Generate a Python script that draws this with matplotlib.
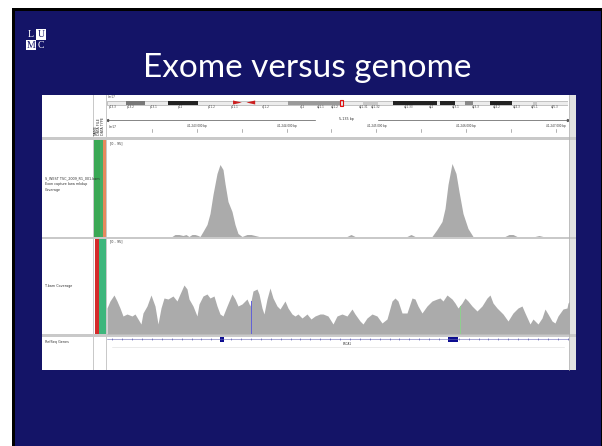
import numpy as np
import matplotlib.pyplot as plt
from matplotlib.patches import Rectangle, Polygon

W, H = 602, 446

# browser locus: chr17 around BRCA1, one screen column per bin
locus_start = 41242000
locus_bp = 5135
n_bins = 462

# exome capture coverage (bin, depth)
exome_bin = [0, 65, 68, 72, 76, 79, 82, 85, 88, 91, 93, 96, 100, 103, 106, 110, 113, 116, 118,
             121, 125, 128, 131, 135, 140, 144, 148, 152, 240, 244, 248, 300, 304, 308, 325,
             330, 335, 338, 341, 345, 349, 352, 356, 361, 366, 370, 398, 402, 406, 410, 428,
             432, 436, 462]
exome_depth = [0, 0, 2, 2, 1, 2, 0, 2, 2, 1, 0, 5, 12, 23, 42, 63, 72, 67, 53,
               35, 25, 12, 3, 0, 2, 2, 1, 0, 0, 2, 0, 0, 2, 0, 0,
               7, 15, 28, 52, 73, 63, 45, 23, 8, 0, 0, 0, 2, 2, 0, 0,
               1, 0, 0]

# whole genome coverage (bin, depth)
genome_bin = [0, 3, 7, 10, 13, 16, 20, 25, 28, 31, 34, 36, 40, 44, 48, 51, 54, 57, 61, 66,
              70, 73, 77, 80, 82, 86, 88, 90, 92, 96, 100, 103, 107, 110, 113, 116, 120, 125, 128, 131,
              135, 140, 143, 146, 150, 152, 155, 157, 160, 163, 166, 170, 173, 178, 181, 185, 188, 191, 195, 200,
              204, 208, 213, 216, 221, 226, 230, 235, 240, 245, 248, 253, 256, 260, 265, 270, 275, 280, 285, 288,
              291, 295, 300, 305, 308, 311, 315, 320, 325, 330, 333, 336, 340, 345, 348, 351, 355, 358, 361, 365,
              370, 375, 380, 383, 386, 390, 393, 396, 401, 406, 411, 415, 418, 423, 426, 431, 435, 438, 441, 445,
              448, 451, 456, 460, 461, 463]
genome_depth = [26, 33, 39, 33, 26, 18, 20, 18, 20, 15, 10, 21, 28, 39, 28, 10, 26, 36, 35, 38,
                33, 40, 49, 45, 35, 28, 23, 18, 30, 38, 40, 36, 38, 28, 20, 18, 28, 40, 35, 28,
                30, 35, 28, 43, 45, 40, 26, 20, 35, 46, 36, 28, 25, 33, 26, 20, 18, 20, 16, 20,
                15, 18, 20, 20, 18, 10, 18, 20, 18, 25, 20, 13, 10, 16, 20, 18, 11, 15, 33, 36,
                33, 21, 21, 36, 35, 28, 21, 28, 33, 35, 36, 33, 39, 35, 31, 26, 31, 36, 33, 28,
                23, 28, 36, 39, 31, 26, 23, 20, 13, 21, 26, 28, 21, 10, 15, 10, 16, 25, 20, 13,
                11, 18, 25, 26, 31, 33]
variant_bin = [144, 353]
variant_color = ['#6060d8', '#8fd08f']

# RefSeq gene
gene_name = 'BRCA1'
exon_start_bin = [113, 341]
exon_end_bin = [117, 351]

# chr17 ideogram (Mb)
chrom_mb = 81.2
band_start = [3.3, 10.7, 31.9, 45.1, 50.4, 58.7, 63.1, 67.5, 75.0]
band_end = [6.7, 16.0, 41.0, 47.7, 58.1, 61.3, 64.5, 71.3, 75.7]
band_color = ['#777777', '#222222', '#9a9a9a', '#c8c8c8', '#222222', '#222222', '#888888', '#222222', '#c8c8c8']
centro_mb = [22.2, 26.1]
band_label = ['p13.3', 'p13.2', 'p13.1', 'p12', 'p11.2', 'p11.1', 'q11.2', 'q12', 'q21.1',
              'q21.2', 'q21.31', 'q21.32', 'q21.33', 'q22', 'q23.1', 'q23.3', 'q24.2', 'q24.3',
              'q25.1', 'q25.3']
band_label_mb = [1.0, 4.2, 8.2, 13.0, 18.5, 22.5, 28.0, 34.5, 37.7, 40.1, 45.3, 47.3, 53.1,
                 57.2, 61.5, 65.0, 68.6, 72.1, 75.3, 78.8]
region_mb = 41.2

ruler_tick_bp = list(range(41242500, 41247001, 500))
ruler_label_bp = [41243000, 41244000, 41245000, 41246000, 41247000]
ruler_labels = ['41,243,000 bp', '41,244,000 bp', '41,245,000 bp', '41,246,000 bp', '41,247,000 bp']

navy = '#141467'
cov_gray = '#ababab'
sep_gray = '#c9c9c9'
tiny = 2.4

bp_per_bin = locus_bp / n_bins
locus_end = locus_start + locus_bp


def to_bp(bins):
    return locus_start + np.asarray(bins, dtype=float) * bp_per_bin


def px_axes(x0, y0, x1, y1):
    return fig.add_axes([x0 / W, 1 - y1 / H, (x1 - x0) / W, (y1 - y0) / H])


fig = plt.figure(figsize=(W / 100, H / 100), dpi=100)
fig.patch.set_facecolor('white')

bg = fig.add_axes([0, 0, 1, 1])
bg.set_xlim(0, W)
bg.set_ylim(H, 0)
bg.axis('off')

# slide
bg.add_patch(Rectangle((12, 8), W - 12, H - 8, color='black', lw=0))
bg.add_patch(Rectangle((15, 11), W - 16, H - 11, color=navy, lw=0))

# logo
for (cx, cy, letter, filled) in [(26, 29, 'L', False), (36, 29, 'U', True),
                                 (26, 39.5, 'M', True), (36, 39.5, 'C', False)]:
    if filled:
        bg.add_patch(Rectangle((cx, cy), 10, 10.5, color='white', lw=0))
    bg.text(cx + 5, cy + 5.6, letter, color=navy if filled else 'white', fontsize=7,
            family='Liberation Serif', ha='center', va='center')

bg.text(307, 68, 'Exome versus genome', color='white', fontsize=24, family='Lato',
        ha='center', va='center')

# browser window
bg.add_patch(Rectangle((42, 95), 534, 275, color='white', lw=0))
bg.add_patch(Rectangle((569, 95), 7, 275, color='#e2e2e2', lw=0))
for y0, y1 in [(137, 139.5), (237, 239), (334, 336.5)]:
    bg.add_patch(Rectangle((42, y0), 534, y1 - y0, color=sep_gray, lw=0))
for x0, x1 in [(92.5, 94), (105.5, 107)]:
    bg.add_patch(Rectangle((x0, 95), x1 - x0, 275, color=sep_gray, lw=0))
bg.plot([569, 569], [95, 370], color='#b0b0b0', lw=0.5)

# attribute columns
for (x0, x1, y0, y1, c) in [(94, 100, 139.5, 237, '#3aa854'), (100, 103.3, 139.5, 237, '#44ad66'),
                            (103.3, 105.5, 139.5, 237, '#e8895e'), (94.5, 99, 239, 334, '#d42b2b'),
                            (99, 105.5, 239, 334, '#3db67c')]:
    bg.add_patch(Rectangle((x0, y0), x1 - x0, y1 - y0, color=c, lw=0))
for i, name in enumerate(['NAME', 'DATA FILE', 'DATA TYPE']):
    bg.text(96 + i * 3.5, 135, name, fontsize=tiny, rotation=90, ha='center', va='bottom', color='#333333')

# track names
bg.text(45, 184, 'S_WEST TSC_2009_R1_001.bam\nExon capture bwa mkdup\nCoverage', fontsize=tiny,
        va='center', ha='left', color='#333333', linespacing=1.6)
bg.text(45, 286, 'T.bam Coverage', fontsize=tiny, va='center', ha='left', color='#333333')
bg.text(45, 342, 'RefSeq Genes', fontsize=tiny, va='center', ha='left', color='#333333')
bg.text(110, 143.5, '[0 - 95]', fontsize=tiny, va='center', ha='left', color='#333333')
bg.text(110, 241, '[0 - 95]', fontsize=tiny, va='center', ha='left', color='#333333')

# ideogram
ideo = px_axes(107, 96, 568, 110)
ideo.set_xlim(0, chrom_mb)
ideo.set_ylim(14, 0)
ideo.axis('off')
ideo.patch.set_alpha(0)
ideo.add_patch(Rectangle((0, 4.5), chrom_mb, 4, fc='#ececec', ec='#9a9a9a', lw=0.4))
for s, e, c in zip(band_start, band_end, band_color):
    ideo.add_patch(Rectangle((s, 4.5), e - s, 4, color=c, lw=0))
cm = (centro_mb[0] + centro_mb[1]) / 2
ideo.add_patch(Polygon([(centro_mb[0], 4.5), (cm - 0.4, 6.5), (centro_mb[0], 8.5)], color='#cc1f1f', lw=0))
ideo.add_patch(Polygon([(centro_mb[1], 4.5), (cm + 0.4, 6.5), (centro_mb[1], 8.5)], color='#cc1f1f', lw=0))
ideo.add_patch(Rectangle((region_mb - 0.2, 3.5), 0.5, 6, fc='none', ec='#e01010', lw=0.8))
for lab, mb in zip(band_label, band_label_mb):
    ideo.text(mb, 11, lab, fontsize=2.0, ha='center', va='center', color='#444444')
ideo.text(0.2, 1.2, 'chr17', fontsize=2.0, ha='left', va='center', color='#444444')

# ruler
ruler = px_axes(107, 112, 568, 136)
ruler.set_xlim(locus_start, locus_end)
ruler.set_ylim(24, 0)
ruler.axis('off')
ruler.patch.set_alpha(0)
mid = (locus_start + locus_end) / 2
ruler.plot([locus_start, mid - 250], [7.5, 7.5], color='#555555', lw=0.5)
ruler.plot([mid + 450, locus_end], [7.5, 7.5], color='#555555', lw=0.5)
ruler.plot([locus_start], [7.5], marker='<', ms=1.5, color='#555555')
ruler.plot([locus_end], [7.5], marker='>', ms=1.5, color='#555555')
ruler.text(mid + 100, 7.2, f'{locus_bp:,} bp', fontsize=2.4, ha='center', va='center', color='#333333')
for t in ruler_tick_bp:
    ruler.plot([t, t], [17, 20], color='#777777', lw=0.4)
for t, lab in zip(ruler_label_bp, ruler_labels):
    ruler.text(t, 14.5, lab, fontsize=2.0, ha='center', va='center', color='#333333')
ruler.text(locus_start + 20, 14.5, 'chr17', fontsize=2.0, ha='left', va='center', color='#333333')

# exome coverage
ax1 = px_axes(107, 141.5, 569, 236.5)
ax1.fill_between(to_bp(exome_bin), exome_depth, color=cov_gray, lw=0)
ax1.set_xlim(locus_start, locus_end)
ax1.set_ylim(0, 95)
ax1.axis('off')
ax1.patch.set_alpha(0)

# genome coverage
ax2 = px_axes(107, 239, 569, 334)
gx = to_bp(genome_bin)
ax2.fill_between(gx, genome_depth, color=cov_gray, lw=0)
for b, c in zip(variant_bin, variant_color):
    vx = to_bp([b])[0]
    ax2.plot([vx, vx], [0, np.interp(vx, gx, genome_depth)], color=c, lw=0.7)
ax2.set_xlim(locus_start, locus_end)
ax2.set_ylim(0, 95)
ax2.axis('off')
ax2.patch.set_alpha(0)

# gene track
ax3 = px_axes(107, 336.5, 569, 368)
ax3.set_xlim(locus_start, locus_end)
ax3.set_ylim(0, 1)
ax3.axis('off')
ax3.patch.set_alpha(0)
ax3.plot([locus_start, locus_end], [0.91, 0.91], color='#6a6ab8', lw=0.4)
chev = np.arange(locus_start + 60, locus_end, 110)
ax3.plot(chev, np.full(len(chev), 0.91), ls='none', marker='|', ms=1.0, mew=0.4, color='#4a4aa8')
for s, e in zip(to_bp(exon_start_bin), to_bp(exon_end_bin)):
    ax3.add_patch(Rectangle((s, 0.83), e - s, 0.15, color='#0c0c90', lw=0))
ax3.plot([locus_start + 60, locus_end - 60], [0.68, 0.68], color='#dcdcdc', lw=0.4)
ax3.text(mid + 100, 0.76, gene_name, fontsize=2.0, ha='center', va='center', color='#333333')

fig.savefig('out.png', dpi=100)
